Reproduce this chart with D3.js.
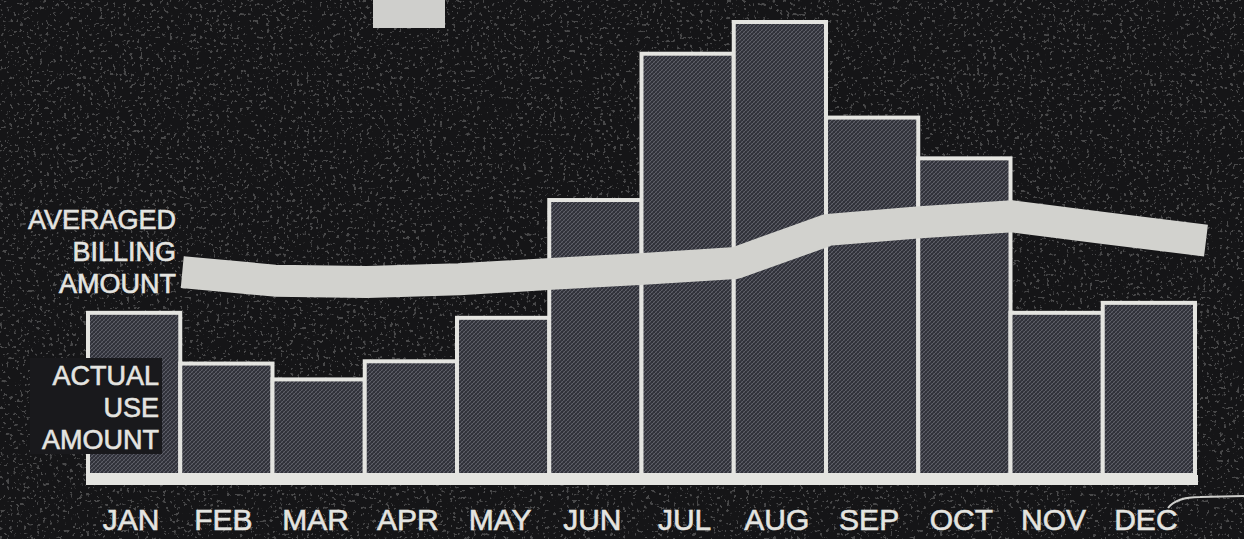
<!DOCTYPE html>
<html>
<head>
<meta charset="utf-8">
<script src="https://cdn.jsdelivr.net/npm/d3@7"></script>
<style>
  html, body { margin: 0; padding: 0; background: #151517; }
  svg { display: block; }
</style>
</head>
<body>
<div id="chart"></div>
<script>

// chart values (no axis, arbitrary units: AUG = 100)
var months = ['JAN', 'FEB', 'MAR', 'APR', 'MAY', 'JUN', 'JUL', 'AUG', 'SEP', 'OCT', 'NOV', 'DEC'];
var actualUse = [35.8, 24.6, 21.1, 25.1, 34.7, 60.7, 93.0, 100, 78.9, 69.9, 35.8, 38.0];
var averagedBilling = [44.8, 42.9, 42.6, 43.2, 44.4, 45.5, 46.8, 54.1, 55.8, 57.1, 54.5, 52.0];
var billingLabel = ['AVERAGED', 'BILLING', 'AMOUNT'];
var actualLabel = ['ACTUAL', 'USE', 'AMOUNT'];

var createChart = () => {

  var width = 1244,
      height = 539;

  var bg = '#151517',
      ink = '#e4e4e0',
      bandColor = '#d2d2ce';

  var svg = d3.select('#chart')
    .append('svg')
    .attr('width', width)
    .attr('height', height);

  var defs = svg.append('defs');

  // crosshatch screen used for the bars
  var pat = defs.append('pattern')
    .attr('id', 'hatch')
    .attr('patternUnits', 'userSpaceOnUse')
    .attr('width', 4)
    .attr('height', 4);
  pat.append('rect').attr('width', 4).attr('height', 4).attr('fill', '#303139');
  pat.append('path').attr('d', 'M0,4 L4,0 M-1,1 L1,-1 M3,5 L5,3').attr('stroke', '#5e5f68').attr('stroke-width', 1);
  pat.append('path').attr('d', 'M0,0 L4,4').attr('stroke', '#464750').attr('stroke-width', 0.8);

  // sparse specks on the dark background
  var grain = defs.append('filter').attr('id', 'grain').attr('x', 0).attr('y', 0).attr('width', '100%').attr('height', '100%');
  grain.append('feTurbulence').attr('type', 'fractalNoise').attr('baseFrequency', 0.3).attr('numOctaves', 2).attr('seed', 7);
  grain.append('feColorMatrix').attr('type', 'matrix')
    .attr('values', '0 0 0 0 1  0 0 0 0 1  0 0 0 0 1  0 0 0 16 -10.2');

  svg.append('rect').attr('width', width).attr('height', height).attr('fill', bg);
  svg.append('rect').attr('width', width).attr('height', height)
    .attr('filter', 'url(#grain)').attr('opacity', 0.22);

  var x = d3.scaleBand().domain(months).range([88, 1195]).padding(0),
      y = d3.scaleLinear().domain([0, 100]).range([475, 22]);

  // actual use bars
  svg.append('g')
    .selectAll('rect')
    .data(actualUse)
    .enter()
    .append('rect')
      .attr('x', function(d, i) { return x(months[i]); })
      .attr('y', function(d) { return y(d); })
      .attr('width', x.bandwidth())
      .attr('height', function(d) { return y(0) - y(d); })
      .attr('fill', 'url(#hatch)')
      .attr('stroke', ink)
      .attr('stroke-width', 4);

  // base line under the bars
  svg.append('line')
    .attr('x1', x.range()[0] - 2)
    .attr('x2', x.range()[1] + 3)
    .attr('y1', y(0) + 5)
    .attr('y2', y(0) + 5)
    .attr('stroke', ink)
    .attr('stroke-width', 10);

  // dark box behind the lower label, cutting into the JAN bar
  svg.append('rect')
    .attr('x', 30)
    .attr('y', 358)
    .attr('width', 132)
    .attr('height', 96)
    .attr('fill', '#19191c');

  // averaged billing band: one point at the right edge of each month
  var pts = averagedBilling.map(function(d, i) {
    return [x(months[i]) + x.bandwidth() + 2, y(d)];
  });
  var n = pts.length,
      dx = pts[n - 1][0] - pts[n - 2][0],
      dy = pts[n - 1][1] - pts[n - 2][1];
  pts[n - 1] = [pts[n - 1][0] + 9, pts[n - 1][1] + dy * 9 / dx];

  svg.append('path')
    .datum(pts)
    .attr('d', d3.line())
    .attr('fill', 'none')
    .attr('stroke', bandColor)
    .attr('stroke-width', 32)
    .attr('stroke-linejoin', 'round')
    .attr('stroke-linecap', 'butt');

  var font = '"Liberation Sans", Arial, Helvetica, sans-serif';

  // left labels
  svg.append('g')
    .selectAll('text')
    .data(billingLabel)
    .enter()
    .append('text')
      .attr('x', 176)
      .attr('y', function(d, i) { return 229 + i * 32; })
      .attr('text-anchor', 'end')
      .attr('font-family', font)
      .attr('font-size', 27)
      .attr('fill', ink)
      .attr('stroke', ink)
      .attr('stroke-width', 0.6)
      .text(function(d) { return d; });

  svg.append('g')
    .selectAll('text')
    .data(actualLabel)
    .enter()
    .append('text')
      .attr('x', 159)
      .attr('y', function(d, i) { return 385 + i * 32; })
      .attr('text-anchor', 'end')
      .attr('font-family', font)
      .attr('font-size', 27)
      .attr('fill', ink)
      .attr('stroke', ink)
      .attr('stroke-width', 0.6)
      .text(function(d) { return d; });

  // month labels
  svg.append('g')
    .selectAll('text')
    .data(months)
    .enter()
    .append('text')
      .attr('x', function(d) { return x(d) + x.bandwidth() / 2 - 3; })
      .attr('y', 530)
      .attr('text-anchor', 'middle')
      .attr('font-family', font)
      .attr('font-size', 30)
      .attr('fill', ink)
      .attr('stroke', ink)
      .attr('stroke-width', 0.6)
      .text(function(d) { return d; });

  // light tab at the top edge
  svg.append('rect')
    .attr('x', 373)
    .attr('y', -4)
    .attr('width', 72)
    .attr('height', 32)
    .attr('fill', '#cfcfcc');

  // pen stroke trailing off the DEC label
  svg.append('path')
    .attr('d', 'M1168,508 C1174,500 1186,497 1200,497 L1244,496')
    .attr('fill', 'none')
    .attr('stroke', '#cfcfcc')
    .attr('stroke-width', 2);
};

createChart();
</script>
</body>
</html>
